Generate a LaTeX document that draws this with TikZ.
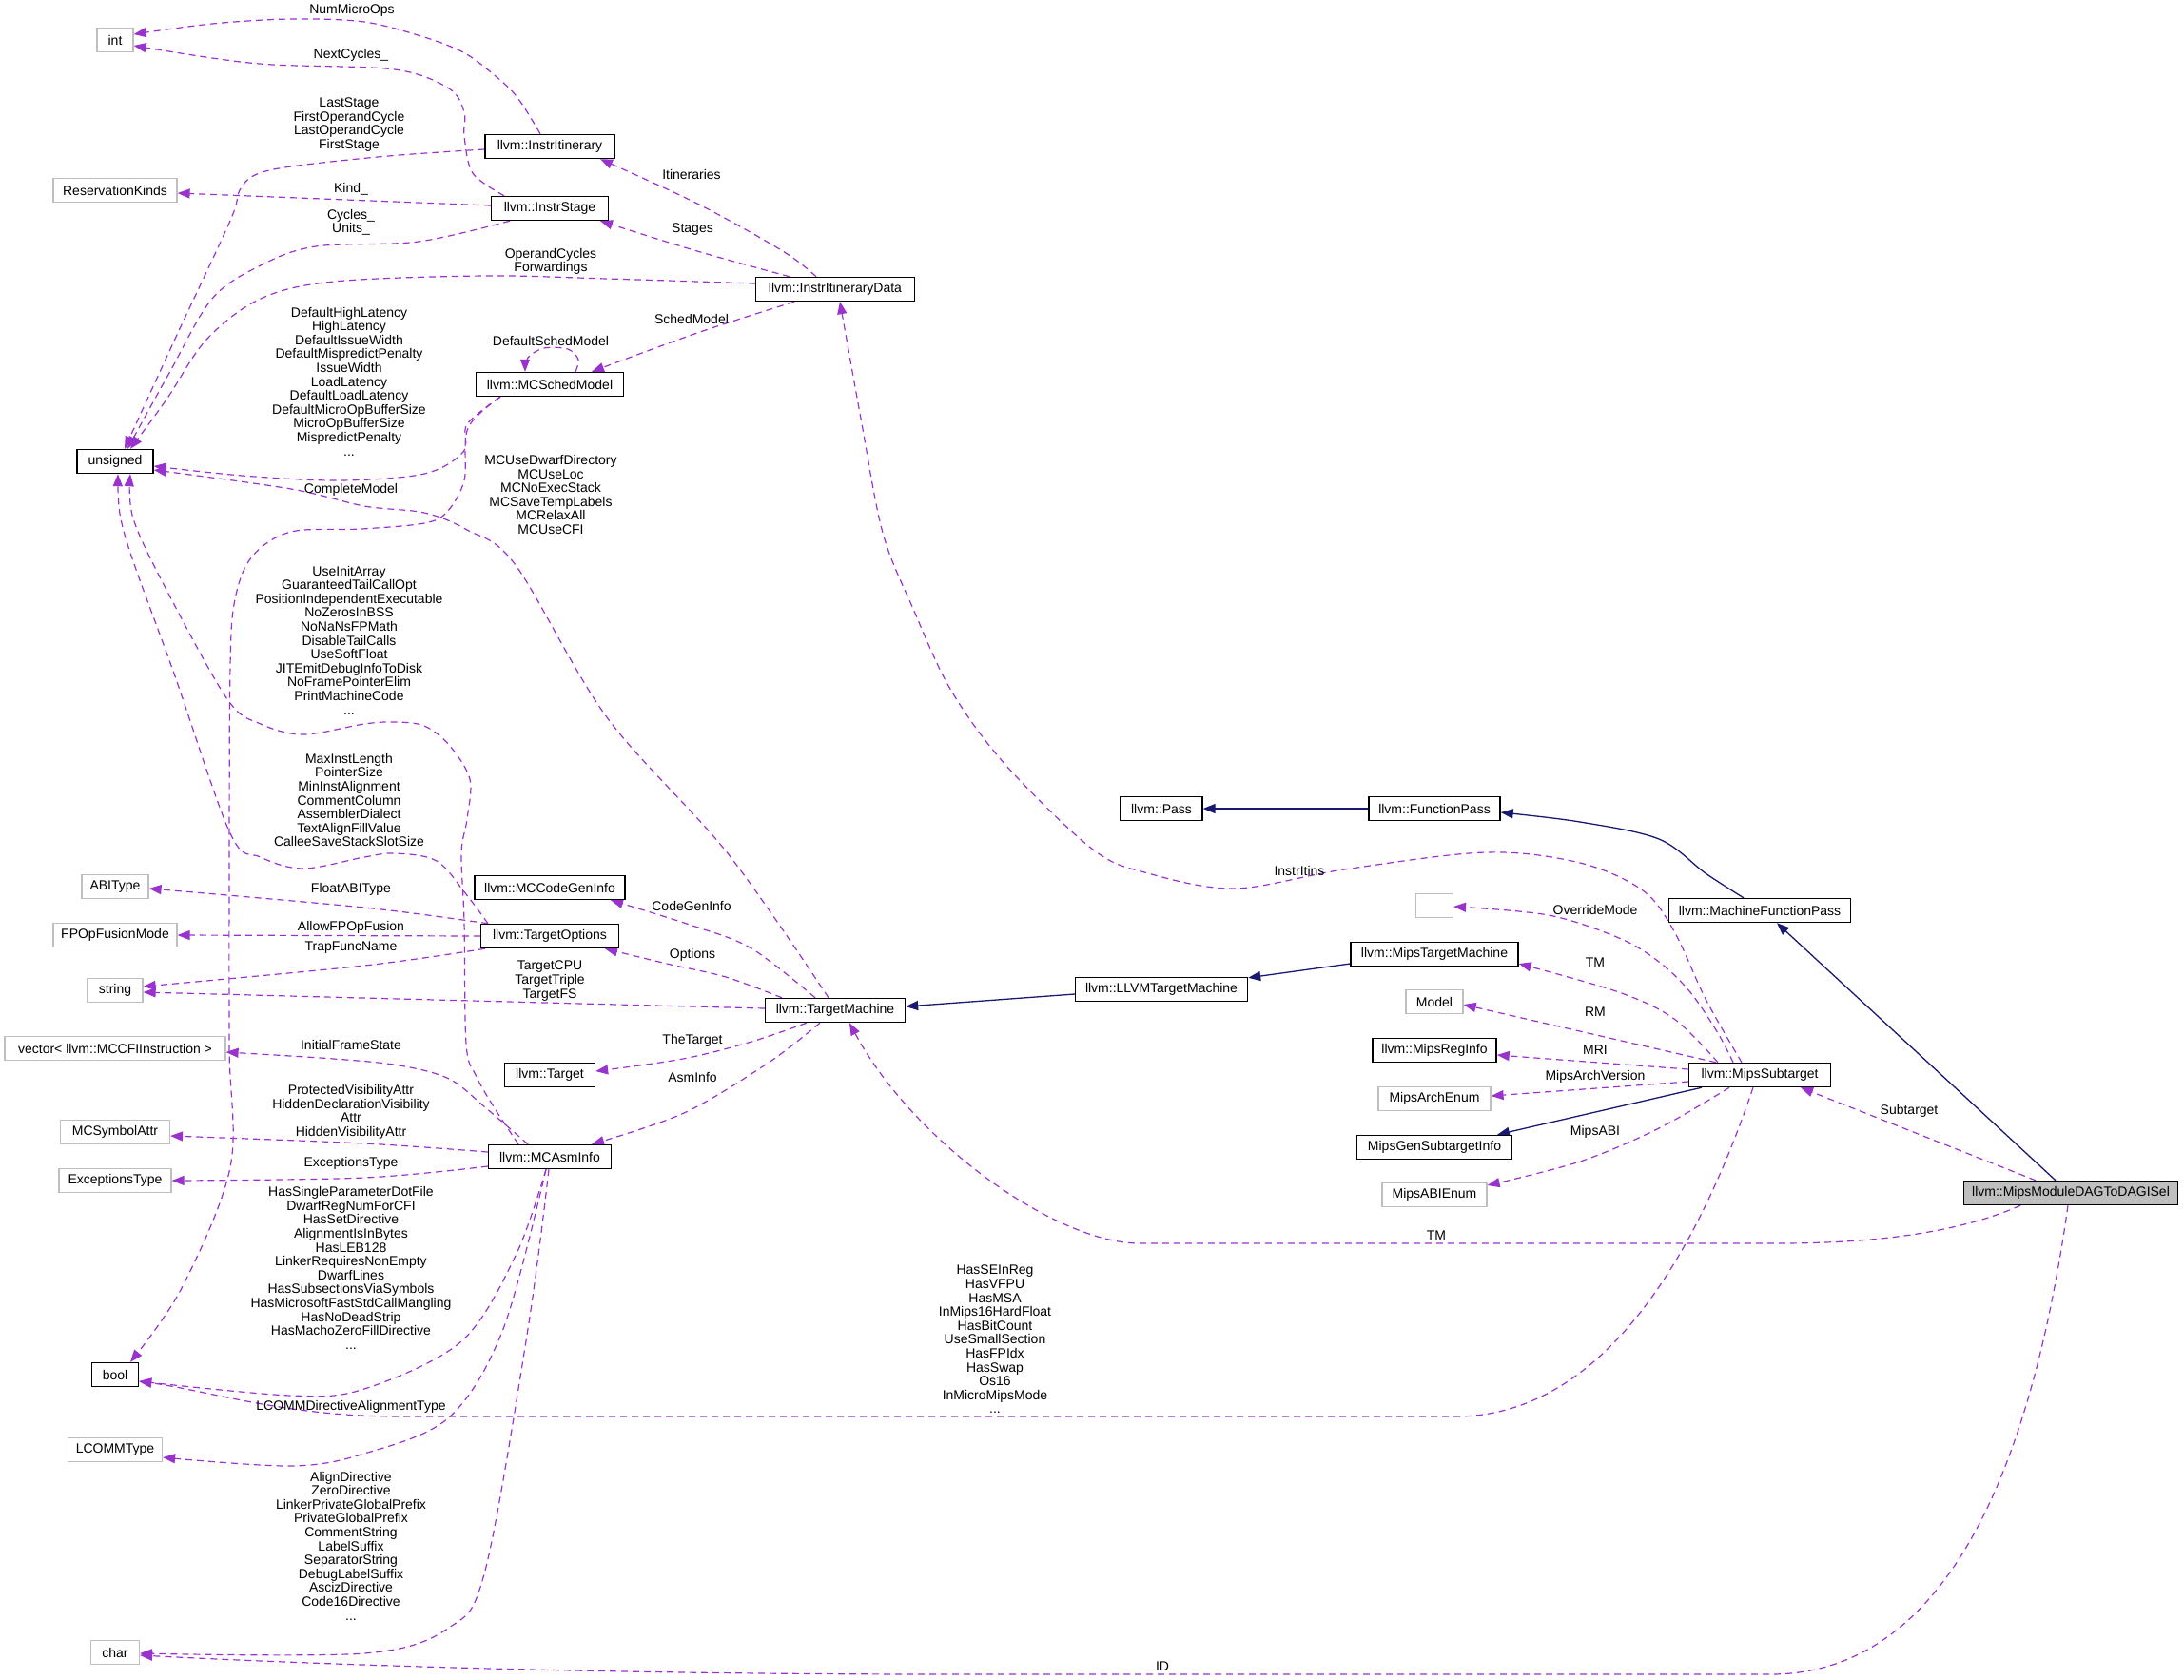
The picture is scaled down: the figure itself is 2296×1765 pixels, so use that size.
\documentclass[tikz,border=0pt]{standalone}
\usepackage{fontspec}
\setmainfont{Liberation Sans}
\usetikzlibrary{arrows.meta}
\definecolor{edgep}{HTML}{9A32CD}
\definecolor{edgen}{HTML}{191970}
\definecolor{boxg}{HTML}{BFBFBF}
\pgfdeclarelayer{background}
\pgfsetlayers{background,main}
\begin{document}
\begin{tikzpicture}[x=1pt,y=-1pt,
  cls/.style={draw=black, line width=1.4pt, fill=white, minimum height=25pt, inner xsep=2pt, inner ysep=0pt, font=\fontsize{14}{14.6}\selectfont},
  ext/.style={cls, draw=boxg, line width=1.2pt},
  lbl/.style={align=center, inner sep=0pt, font=\fontsize{14}{14.6}\selectfont},
  use/.style={draw=edgep, line width=1.2pt, dash pattern=on 7pt off 5pt, -{Triangle[length=13pt,width=10pt]}},
  inh/.style={draw=edgen, line width=1.3pt, -{Triangle[length=13pt,width=10pt]}},
  sm/.style={smooth, tension=0.55}
]
\useasboundingbox (0,0) rectangle (2296,1765);

% ---- nodes ----
\node[ext, minimum width=38pt]  (nInt)  at (121,42)   {int};
\node[ext, minimum width=130pt] (nRes)  at (121,200)  {ReservationKinds};
\node[cls, minimum width=80pt]  (nUns)  at (121,485)  {unsigned};
\node[ext, minimum width=70pt]  (nABI)  at (121,932)  {ABIType};
\node[ext, minimum width=130pt] (nFPO)  at (121,983)  {FPOpFusionMode};
\node[ext, minimum width=58pt]  (nStr)  at (121,1041) {string};
\node[ext, minimum width=232pt] (nVec)  at (121,1102) {vector< llvm::MCCFIInstruction >};
\node[ext, minimum width=115pt] (nSym)  at (121,1190) {MCSymbolAttr};
\node[ext, minimum width=118pt] (nExc)  at (121,1241) {ExceptionsType};
\node[cls, minimum width=49pt]  (nBool) at (121,1445) {bool};
\node[ext, minimum width=99pt]  (nLC)   at (121,1524) {LCOMMType};
\node[ext, minimum width=51pt]  (nChar) at (121,1737) {char};

\node[cls, minimum width=136pt] (nItin)  at (578,154)  {llvm::InstrItinerary};
\node[cls, minimum width=123pt] (nStage) at (578,219)  {llvm::InstrStage};
\node[cls, minimum width=155pt] (nSched) at (578,404)  {llvm::MCSchedModel};
\node[cls, minimum width=158pt] (nCGI)   at (578,933)  {llvm::MCCodeGenInfo};
\node[cls, minimum width=145pt] (nTO)    at (578,984)  {llvm::TargetOptions};
\node[cls, minimum width=95pt]  (nTgt)   at (578,1130) {llvm::Target};
\node[cls, minimum width=129pt] (nAsm)   at (578,1216) {llvm::MCAsmInfo};

\node[cls, minimum width=167pt] (nIID) at (878,304)  {llvm::InstrItineraryData};
\node[cls, minimum width=147pt] (nTM)  at (878,1062) {llvm::TargetMachine};

\node[cls, minimum width=86pt]  (nPass) at (1221,850)  {llvm::Pass};
\node[cls, minimum width=181pt] (nLLVM) at (1221,1040) {llvm::LLVMTargetMachine};

\node[cls, minimum width=138pt] (nFP)    at (1508,850)  {llvm::FunctionPass};
\node[ext, minimum width=39pt]  (nEmpty) at (1508,952)  {};
\node[cls, minimum width=176pt] (nMTM)   at (1508,1003) {llvm::MipsTargetMachine};
\node[ext, minimum width=60pt]  (nModel) at (1508,1053) {Model};
\node[cls, minimum width=130pt] (nMRI)   at (1508,1104) {llvm::MipsRegInfo};
\node[ext, minimum width=118pt] (nMAE)   at (1508,1155) {MipsArchEnum};
\node[cls, minimum width=163pt] (nMGS)   at (1508,1206) {MipsGenSubtargetInfo};
\node[ext, minimum width=110pt] (nABIE)  at (1508,1256) {MipsABIEnum};

\node[cls, minimum width=191pt] (nMFP) at (1850,957)  {llvm::MachineFunctionPass};
\node[cls, minimum width=149pt] (nMS)  at (1850,1130) {llvm::MipsSubtarget};
\node[cls, minimum width=225pt, fill=boxg] (nDAG) at (2177,1254) {llvm::MipsModuleDAGToDAGISel};

% ---- labels ----
\node[lbl] (l1)  at (370,11)   {NumMicroOps};
\node[lbl] (l2)  at (369,58)   {NextCycles\_};
\node[lbl] (l3)  at (367,131)  {LastStage\\FirstOperandCycle\\LastOperandCycle\\FirstStage};
\node[lbl] (l4)  at (727,183)  {Itineraries};
\node[lbl] (l5)  at (369,199)  {Kind\_};
\node[lbl] (l6)  at (369,234)  {Cycles\_\\Units\_};
\node[lbl] (l7)  at (728,241)  {Stages};
\node[lbl] (l8)  at (579,275)  {OperandCycles\\Forwardings};
\node[lbl] (l9)  at (367,401)  {DefaultHighLatency\\HighLatency\\DefaultIssueWidth\\DefaultMispredictPenalty\\IssueWidth\\LoadLatency\\DefaultLoadLatency\\DefaultMicroOpBufferSize\\MicroOpBufferSize\\MispredictPenalty\\...};
\node[lbl] (l10) at (727,335)  {SchedModel};
\node[lbl] (l11) at (579,358)  {DefaultSchedModel};
\node[lbl] (l12) at (579,520)  {MCUseDwarfDirectory\\MCUseLoc\\MCNoExecStack\\MCSaveTempLabels\\MCRelaxAll\\MCUseCFI};
\node[lbl] (l13) at (369,515)  {CompleteModel};
\node[lbl] (l14) at (367,673)  {UseInitArray\\GuaranteedTailCallOpt\\PositionIndependentExecutable\\NoZerosInBSS\\NoNaNsFPMath\\DisableTailCalls\\UseSoftFloat\\JITEmitDebugInfoToDisk\\NoFramePointerElim\\PrintMachineCode\\...};
\node[lbl] (l15) at (367,841)  {MaxInstLength\\PointerSize\\MinInstAlignment\\CommentColumn\\AssemblerDialect\\TextAlignFillValue\\CalleeSaveStackSlotSize};
\node[lbl] (l16) at (369,935)  {FloatABIType};
\node[lbl] (l17) at (727,952)  {CodeGenInfo};
\node[lbl] (l18) at (369,975)  {AllowFPOpFusion};
\node[lbl] (l19) at (369,996)  {TrapFuncName};
\node[lbl] (l20) at (728,1004) {Options};
\node[lbl] (l21) at (578,1031) {TargetCPU\\TargetTriple\\TargetFS};
\node[lbl] (l22) at (369,1098) {InitialFrameState};
\node[lbl] (l23) at (728,1094) {TheTarget};
\node[lbl] (l24) at (728,1132) {AsmInfo};
\node[lbl] (l25) at (369,1169) {ProtectedVisibilityAttr\\HiddenDeclarationVisibility\\Attr\\HiddenVisibilityAttr};
\node[lbl] (l26) at (369,1223) {ExceptionsType};
\node[lbl] (l27) at (369,1333) {HasSingleParameterDotFile\\DwarfRegNumForCFI\\HasSetDirective\\AlignmentIsInBytes\\HasLEB128\\LinkerRequiresNonEmpty\hspace*{56pt}\\DwarfLines\\HasSubsectionsViaSymbols\\HasMicrosoftFastStdCallMangling\\HasNoDeadStrip\\HasMachoZeroFillDirective\\...};
\node[lbl] (l28) at (369,1479) {LCOMMDirectiveAlignmentType};
\node[lbl] (l29) at (369,1625) {AlignDirective\\ZeroDirective\\LinkerPrivateGlobalPrefix\\PrivateGlobalPrefix\\CommentString\\LabelSuffix\\SeparatorString\\DebugLabelSuffix\\AscizDirective\\Code16Directive\\...};
\node[lbl] (l30) at (1366,915)  {InstrItins};
\node[lbl] (l31) at (1677,956)  {OverrideMode};
\node[lbl] (l32) at (1677,1012) {TM};
\node[lbl] (l33) at (1677,1064) {RM};
\node[lbl] (l34) at (1677,1104) {MRI};
\node[lbl] (l35) at (1677,1132) {MipsArchVersion};
\node[lbl] (l36) at (1677,1190) {MipsABI};
\node[lbl] (l37) at (2007,1168) {Subtarget};
\node[lbl] (l38) at (1510,1299) {TM};
\node[lbl] (l39) at (1046,1408) {HasSEInReg\\HasVFPU\\HasMSA\\InMips16HardFloat\\HasBitCount\\UseSmallSection\\HasFPIdx\\HasSwap\\Os16\\InMicroMipsMode\\...};
\node[lbl] (l40) at (1222,1752) {ID};

% ---- edges ----
\begin{pgfonlayer}{background}
\draw[use] plot[sm] coordinates {([xshift=-10pt]nItin.north) (542,100) (510,71) (485,54) (446,39) (383,23) (306,20) (223,25) ([yshift=6pt]nInt.east)};
\draw[use] plot[sm] coordinates {([xshift=-48pt]nStage.north) (497,182) (488,143) (488,118) (472,93) (415,73) (287,68) (223,61) ([yshift=-6pt]nInt.east)};
\draw[use] plot[sm] coordinates {([yshift=-3pt]nItin.west) (408,164) (306,175) (268,184) (252,200) (242,232) (186,352) ([xshift=10pt]nUns.north)};
\draw[use] ([yshift=3pt]nStage.west) -- ([yshift=-3pt]nRes.east);
\draw[use] plot[sm] coordinates {([xshift=-42pt]nStage.south) (440,254) (332,259) (274,279) (223,314) (178,392) ([xshift=13pt]nUns.north)};
\draw[use] plot[sm] coordinates {([xshift=-20pt]nIID.north) (823,264) (733,214) ([xshift=53pt]nItin.south)};
\draw[use] plot[sm] coordinates {([xshift=-48pt]nIID.north) (733,264) ([xshift=53pt]nStage.south)};
\draw[use] plot[sm] coordinates {([yshift=6pt]nIID.west) (638,293) (510,290) (351,296) (274,314) (217,357) (175,420) ([xshift=16pt]nUns.north)};
\draw[use] plot[sm] coordinates {([xshift=-43pt]nIID.south) (733,350) ([xshift=44pt]nSched.north)};
\draw[use] plot[sm] coordinates {([xshift=27pt]nSched.north) (608,378) (597,367) (572,366) (555,376) ([xshift=-26pt]nSched.north)};
\draw[use] plot[sm] coordinates {([xshift=-52pt]nSched.south) (491,446) (487,475) (446,498) (357,505) (255,500) ([yshift=-5pt]nUns.east)};
\draw[use] plot[sm] coordinates {([xshift=-52pt]nSched.south) (492,450) (488,505) (470,538) (446,550) (380,556) (306,559) (265,585) (247,630) (242,700) (241,900) (241,1100) (242,1227) (191,1354) ([xshift=16pt]nBool.north)};
\draw[use] plot[sm] coordinates {([xshift=-7pt]nTM.north) (765,897) (638,754) (542,594) (491,557) (446,539) (383,532) (306,514) ([yshift=-9pt]nUns.east)};
\draw[use] plot[sm] coordinates {([xshift=-65pt]nTO.north) (490,940) (459,905) (415,897) (383,901) (319,913) (274,901) (242,876) (183,708) (140,590) (126,540) ([xshift=3pt]nUns.south)};
\draw[use] plot[sm] coordinates {([xshift=-33pt]nAsm.north) (520,1165) (500,1130) (490,1097) (488,969) (485,897) (491,861) (494,819) (472,783) (446,763) (415,759) (383,761) (319,772) (274,761) (239,735) (175,620) (140,545) ([xshift=16pt]nUns.south)};
\draw[use] plot[sm] coordinates {([xshift=-23pt]nAsm.north) (510,1164) (472,1134) (420,1120) (351,1113) ([yshift=-4pt]nVec.east)};
\draw[use] plot[sm] coordinates {([yshift=5pt]nAsm.west) (383,1202) ([yshift=-4pt]nSym.east)};
\draw[use] plot[sm] coordinates {([yshift=-10pt]nAsm.west) (383,1238) (nExc.east)};
\draw[use] plot[sm] coordinates {([xshift=-4pt]nAsm.south) (542,1320) (485,1410) (383,1460) (306,1467) ([yshift=-7pt]nBool.east)};
\draw[use] plot[sm] coordinates {([xshift=-4pt]nAsm.south) (529,1397) (472,1490) (383,1528) (306,1541) ([yshift=-8pt]nLC.east)};
\draw[use] plot[sm] coordinates {([xshift=-1pt]nAsm.south) (555,1397) (510,1651) (472,1711) (383,1738) ([yshift=-1pt]nChar.east)};
\draw[use] ([xshift=-7pt]nMS.south) .. controls (1780,1330) and (1680,1489) .. (1530,1489) -- (420,1489) .. controls (300,1489) and (220,1462) .. ([yshift=-7pt]nBool.east);
\draw[use] ([xshift=-3pt]nDAG.south) .. controls (2130,1580) and (2030,1760) .. (1861,1760) -- (1000,1760) .. controls (600,1760) and (300,1748) .. ([yshift=-3pt]nChar.east);
\draw[use] ([xshift=-53pt]nDAG.south) .. controls (2050,1300) and (1950,1307) .. (1868,1307) -- (1198,1307) .. controls (1110,1307) and (960,1200) .. ([xshift=15pt]nTM.south);
\draw[use] ([xshift=-37pt]nDAG.north) -- ([xshift=43pt]nMS.south);
\draw[inh] ([xshift=-16pt]nDAG.north) -- ([xshift=18pt]nMFP.south);
\draw[inh] plot[sm] coordinates {([xshift=-17pt]nMFP.north) (1793,918) (1744,882) (1661,864) ([yshift=-4pt]nFP.east)};
\draw[inh] (nFP.west) -- (nPass.east);
\draw[inh] ([yshift=-10pt]nMTM.west) -- ([yshift=-1pt]nLLVM.north east);
\draw[inh] ([yshift=-5pt]nLLVM.west) -- ([yshift=4pt]nTM.east);
\draw[inh] ([xshift=-61pt]nMS.south) -- ([xshift=66pt]nMGS.north);
\draw[use] plot[sm] coordinates {([xshift=-19pt]nMS.north) (1793,1050) (1760,979) (1727,936) (1661,907) (1562,896) (1413,914) (1298,934) (1207,918) (1149,893) (1058,805) (1000,726) (960,640) (928,560) (905,440) ([xshift=5pt]nIID.south)};
\draw[use] plot[sm] coordinates {([xshift=-28pt]nMS.north) (1806,1086) (1777,1043) (1744,1011) (1702,986) (1628,962) ([yshift=-1pt]nEmpty.east)};
\draw[use] plot[sm] coordinates {([xshift=-44pt]nMS.north) (1760,1071) (1702,1043) ([yshift=-10pt]nMTM.east)};
\draw[use] ([xshift=-46pt]nMS.north) -- ([yshift=-3pt]nModel.east);
\draw[use] ([yshift=6pt]nMS.west) -- ([yshift=-5pt]nMRI.east);
\draw[use] ([yshift=-7pt]nMS.west) -- ([yshift=3pt]nMAE.east);
\draw[use] plot[sm] coordinates {([xshift=-32pt]nMS.south) (1744,1186) (1661,1221) ([yshift=10pt]nABIE.east)};
\draw[use] plot[sm] coordinates {([xshift=-21pt]nTM.north) (790,997) (728,973) ([xshift=64pt]nCGI.south)};
\draw[use] plot[sm] coordinates {([xshift=-56pt]nTM.north) (763,1027) (701,1013) ([xshift=58pt]nTO.south)};
\draw[use] ([yshift=2pt]nTM.west) -- ([yshift=-2pt]nStr.east);
\draw[use] plot[sm] coordinates {([xshift=-30pt]nTM.south) (790,1095) (718,1113) ([yshift=4pt]nTgt.east)};
\draw[use] plot[sm] coordinates {([xshift=-16pt]nTM.south) (808,1117) (719,1170) ([xshift=44pt]nAsm.north)};
\draw[use] plot[sm] coordinates {([xshift=-65pt]nTO.north) (383,954) ([yshift=-2pt]nABI.east)};
\draw[use] (nTO.west) -- (nFPO.east);
\draw[use] plot[sm] coordinates {([xshift=-68pt]nTO.south) (383,1015) ([yshift=4pt]nStr.east)};
\end{pgfonlayer}
\end{tikzpicture}
\end{document}
